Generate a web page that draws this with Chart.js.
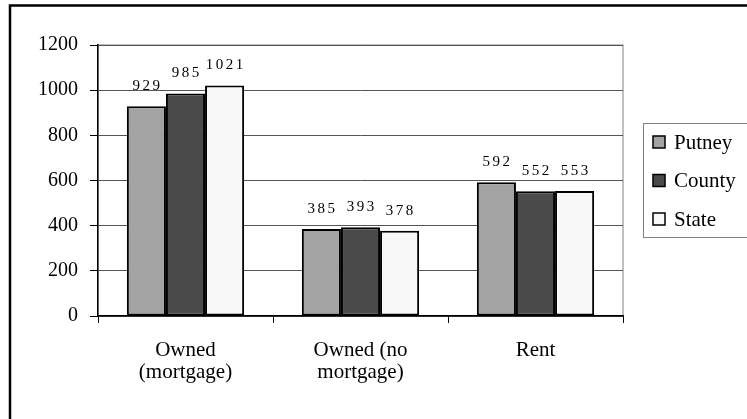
<!DOCTYPE html>
<html lang="en">
<head>
  <meta charset="UTF-8" />
  <title>Housing Costs</title>
  <script src="https://cdn.jsdelivr.net/npm/chart.js"></script>
  <style>
    body {
      margin: 0;
      background: #fff;
    }
    #wrap {
      width: 747px;
      height: 419px;
    }
  </style>
</head>
<body>
  <div id="wrap"><canvas id="housingChart" width="747" height="419"></canvas></div>

  <script>
    const categories = [['Owned', '(mortgage)'], ['Owned (no', 'mortgage)'], 'Rent'];
    const seriesNames = ['Putney', 'County', 'State'];
    const putney = [929, 385, 592];
    const county = [985, 393, 552];
    const state = [1021, 378, 553];
    const yTicks = [0, 200, 400, 600, 800, 1000, 1200];

    const serif = "'Liberation Serif', 'Times New Roman', serif";
    const fills = ['#a3a3a3', '#4b4b4b', '#f8f8f8'];

    // frame around the whole chart plus plot area border
    const framePlugin = {
      id: 'frame',
      beforeDraw(chart) {
        const ctx = chart.ctx;
        const a = chart.chartArea;
        ctx.save();
        ctx.strokeStyle = '#000';
        ctx.lineWidth = 2.5;
        ctx.strokeRect(10, 5.5, 800, 500);
        ctx.strokeStyle = '#808080';
        ctx.lineWidth = 1;
        ctx.strokeRect(a.left, a.top, a.right - a.left, a.bottom - a.top);
        ctx.restore();
      }
    };

    // value labels above each bar, spaced out like the original
    const valueLabels = {
      id: 'valueLabels',
      afterDatasetsDraw(chart) {
        const ctx = chart.ctx;
        ctx.save();
        ctx.font = '15px ' + serif;
        ctx.fillStyle = '#000';
        ctx.textAlign = 'center';
        ctx.textBaseline = 'middle';
        ctx.letterSpacing = '2.5px';
        chart.data.datasets.forEach((ds, i) => {
          chart.getDatasetMeta(i).data.forEach((bar, j) => {
            ctx.fillText(String(ds.data[j]), bar.x + 1.2, bar.y - 20);
          });
        });
        ctx.restore();
      }
    };

    // boxed legend on the right
    const boxLegend = {
      id: 'boxLegend',
      afterDraw(chart) {
        const ctx = chart.ctx;
        ctx.save();
        ctx.strokeStyle = '#808080';
        ctx.lineWidth = 1;
        ctx.strokeRect(643.5, 123.5, 130, 114);
        ctx.font = '21px ' + serif;
        ctx.textBaseline = 'middle';
        chart.data.datasets.forEach((ds, i) => {
          const y = 142 + i * 38.5;
          ctx.fillStyle = ds.backgroundColor;
          ctx.fillRect(653, y - 6, 12, 12);
          ctx.strokeStyle = '#000';
          ctx.lineWidth = 1.5;
          ctx.strokeRect(653, y - 6, 12, 12);
          ctx.fillStyle = '#000';
          ctx.fillText(ds.label, 674, y + 1);
        });
        ctx.restore();
      }
    };

    new Chart(document.getElementById('housingChart'), {
      type: 'bar',
      data: {
        labels: categories,
        datasets: [putney, county, state].map((values, i) => ({
          label: seriesNames[i],
          data: values,
          backgroundColor: fills[i],
          borderColor: '#000',
          borderWidth: 2,
          borderSkipped: false,
          barPercentage: 1.0,
          categoryPercentage: 0.67
        }))
      },
      options: {
        responsive: false,
        animation: false,
        layout: { padding: { left: 0, right: 124, top: 45, bottom: 0 } },
        plugins: {
          legend: { display: false },
          tooltip: { enabled: false }
        },
        scales: {
          x: {
            afterFit(scale) { scale.height = 103; },
            grid: {
              offset: true,
              drawOnChartArea: false,
              tickLength: 7,
              tickColor: '#000'
            },
            border: { color: '#000', width: 1.5 },
            ticks: {
              color: '#000',
              padding: 16,
              maxRotation: 0,
              font: { family: serif, size: 21, lineHeight: 1.05 }
            }
          },
          y: {
            min: 0,
            max: 1200,
            afterFit(scale) { scale.width = 98; },
            afterBuildTicks(scale) { scale.ticks = yTicks.map(v => ({ value: v })); },
            grid: {
              color: '#555',
              tickLength: 8,
              tickColor: '#000'
            },
            border: { color: '#000', width: 1.5 },
            ticks: {
              color: '#000',
              padding: 12,
              font: { family: serif, size: 20 },
              callback: v => String(v)
            }
          }
        }
      },
      plugins: [framePlugin, valueLabels, boxLegend]
    });
  </script>
</body>
</html>
